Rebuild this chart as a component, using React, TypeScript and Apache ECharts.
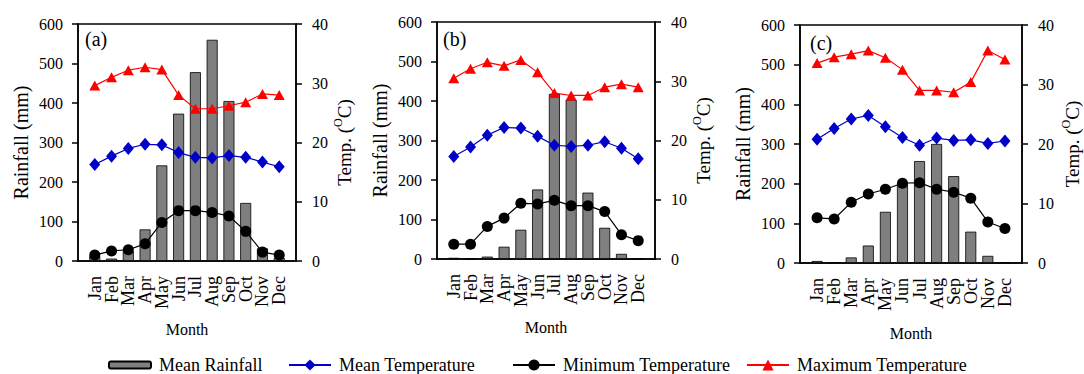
import React, { useEffect, useRef } from "react";
import * as echarts from "echarts";

const months = ["Jan", "Feb", "Mar", "Apr", "May", "Jun", "Jul", "Aug", "Sep", "Oct", "Nov", "Dec"];
const panelLabels = ["(a)", "(b)", "(c)"];

const rainA = [12, 6, 25, 80, 242, 373, 478, 560, 405, 147, 32, 8];
const meanA = [16.3, 17.7, 19.0, 19.7, 19.6, 18.3, 17.5, 17.4, 17.8, 17.5, 16.7, 15.9];
const minA = [1.0, 1.7, 1.9, 2.9, 6.5, 8.5, 8.5, 8.2, 7.6, 5.0, 1.5, 1.0];
const maxA = [29.6, 31.0, 32.2, 32.7, 32.3, 28.0, 25.7, 25.7, 26.2, 26.8, 28.2, 28.0];

const rainB = [3, 1, 6, 31, 74, 176, 418, 403, 168, 79, 13, 1];
const meanB = [17.3, 18.9, 20.9, 22.2, 22.1, 20.7, 19.2, 19.0, 19.2, 19.8, 18.7, 16.9];
const minB = [2.5, 2.5, 5.5, 6.9, 9.4, 9.3, 9.9, 9.0, 9.0, 8.0, 4.1, 3.1];
const maxB = [30.5, 32.1, 33.2, 32.6, 33.6, 31.5, 28.0, 27.6, 27.6, 29.0, 29.5, 29.0];

const rainC = [5, 2, 14, 44, 129, 200, 257, 300, 219, 79, 18, 2];
const meanC = [20.8, 22.6, 24.2, 24.8, 22.9, 21.1, 19.8, 21.0, 20.6, 20.7, 20.1, 20.5];
const minC = [7.6, 7.4, 10.2, 11.6, 12.4, 13.4, 13.5, 12.4, 11.9, 10.9, 6.9, 5.8];
const maxC = [33.6, 34.6, 35.1, 35.7, 34.5, 32.5, 29.0, 29.0, 28.7, 30.4, 35.7, 34.2];

const FONT = "Liberation Serif";

const panels = [
  { rain: rainA, mean: meanA, min: minA, max: maxA, grid: { left: 78, top: 24, width: 218, height: 237 }, rGap: 30, lbl: { x: 85, y: 39 }, mGap: 60 },
  { rain: rainB, mean: meanB, min: minB, max: maxB, grid: { left: 437, top: 22, width: 218, height: 237 }, rGap: 28, lbl: { x: 443, y: 39 }, mGap: 60 },
  { rain: rainC, mean: meanC, min: minC, max: maxC, grid: { left: 800, top: 25, width: 222, height: 238 }, rGap: 38, lbl: { x: 810, y: 43 }, mGap: 62 },
];

const pad = (arr: number[]) => [null, ...arr, null];

function buildOption() {
  const grid: any[] = [];
  const xAxis: any[] = [];
  const yAxis: any[] = [];
  const series: any[] = [];
  const graphic: any[] = [];
  panels.forEach((p, i) => {
    grid.push({ ...p.grid, show: true, borderColor: "#000", borderWidth: 1.5, backgroundColor: "transparent" });
    xAxis.push({
      type: "category",
      gridIndex: i,
      data: ["", ...months, ""],
      boundaryGap: false,
      axisTick: { show: false },
      axisLine: { lineStyle: { color: "#000", width: 1.5 } },
      axisLabel: { rotate: 90, interval: 0, fontSize: 18, fontFamily: FONT, color: "#000", margin: 15 },
      name: "Month",
      nameLocation: "middle",
      nameGap: p.mGap,
      nameTextStyle: { fontSize: 16, fontFamily: FONT, color: "#000" },
      splitLine: { show: false },
    });
    yAxis.push({
      type: "value",
      gridIndex: i,
      position: "left",
      min: 0,
      max: 600,
      interval: 100,
      splitLine: { show: false },
      axisLine: { show: true, lineStyle: { color: "#000", width: 1.5 } },
      axisTick: { show: true, length: 6, lineStyle: { color: "#000", width: 1.5 } },
      axisLabel: { fontSize: 16, fontFamily: FONT, color: "#000", margin: 15 },
      name: "Rainfall (mm)",
      nameLocation: "middle",
      nameRotate: 90,
      nameGap: 47,
      nameTextStyle: { fontSize: 20, fontFamily: FONT, color: "#000" },
    });
    yAxis.push({
      type: "value",
      gridIndex: i,
      position: "right",
      min: 0,
      max: 40,
      interval: 10,
      splitLine: { show: false },
      axisLine: { show: true, lineStyle: { color: "#000", width: 1.5 } },
      axisTick: { show: true, length: 6, lineStyle: { color: "#000", width: 1.5 } },
      axisLabel: { fontSize: 16, fontFamily: FONT, color: "#000", margin: 16 },
      name: "{n|Temp. (}{s|O}{n|C)}",
      nameLocation: "middle",
      nameRotate: 90,
      nameGap: p.rGap,
      nameTextStyle: {
        fontFamily: FONT,
        color: "#000",
        rich: {
          n: { fontSize: 19, fontFamily: FONT, color: "#000", lineHeight: 22, verticalAlign: "bottom" },
          s: { fontSize: 12, fontFamily: FONT, color: "#000", lineHeight: 22, verticalAlign: "top", padding: [0, 0, 8, 0] },
        },
      },
    });
    series.push({
      name: "Mean Rainfall",
      type: "bar",
      xAxisIndex: i,
      yAxisIndex: i * 2,
      data: pad(p.rain),
      barWidth: 11,
      itemStyle: { color: "#7f7f7f", borderColor: "#000", borderWidth: 0.8 },
      z: 1,
    });
    series.push({
      name: "Mean Temperature",
      type: "line",
      xAxisIndex: i,
      yAxisIndex: i * 2 + 1,
      data: pad(p.mean),
      symbol: "diamond",
      symbolSize: [11, 13],
      lineStyle: { color: "#0000c8", width: 1.2 },
      itemStyle: { color: "#0000c8" },
      z: 3,
    });
    series.push({
      name: "Minimum Temperature",
      type: "line",
      xAxisIndex: i,
      yAxisIndex: i * 2 + 1,
      data: pad(p.min),
      symbol: "circle",
      symbolSize: 11,
      lineStyle: { color: "#000", width: 1.2 },
      itemStyle: { color: "#000" },
      z: 3,
    });
    series.push({
      name: "Maximum Temperature",
      type: "line",
      xAxisIndex: i,
      yAxisIndex: i * 2 + 1,
      data: pad(p.max),
      symbol: "triangle",
      symbolSize: [11, 10],
      lineStyle: { color: "#ff0000", width: 1.2 },
      itemStyle: { color: "#ff0000" },
      z: 3,
    });
    graphic.push({
      type: "text",
      x: p.lbl.x,
      y: p.lbl.y,
      style: { text: panelLabels[i], font: `20px ${FONT}`, fill: "#000", verticalAlign: "middle" },
      z: 10,
    });
  });

  const legTxt = { fontSize: 18, fontFamily: FONT, color: "#000", padding: [0, 0, 0, 3] };
  const legend = [
    { data: ["Mean Rainfall"], left: 108, top: 356, itemWidth: 42, itemHeight: 7, padding: 0, textStyle: legTxt },
    { data: ["Mean Temperature"], left: 288, top: 356, itemWidth: 42, itemHeight: 14, padding: 0, textStyle: legTxt },
    { data: ["Minimum Temperature"], left: 512, top: 356, itemWidth: 42, itemHeight: 14, padding: 0, textStyle: legTxt },
    { data: ["Maximum Temperature"], left: 746, top: 356, itemWidth: 42, itemHeight: 14, padding: 0, textStyle: legTxt },
  ];

  return {
    animation: false,
    backgroundColor: "#fff",
    textStyle: { fontFamily: FONT },
    grid,
    xAxis,
    yAxis,
    series,
    legend,
    graphic,
  };
}

export default function App() {
  const ref = useRef<HTMLDivElement>(null);
  useEffect(() => {
    if (!ref.current) return;
    const chart = echarts.init(ref.current, null, { renderer: "svg" });
    chart.setOption(buildOption() as any);
    return () => chart.dispose();
  }, []);
  return (
    <div
      ref={ref}
      style={{ position: "fixed", left: 0, top: 0, width: 1084, height: 374, background: "#fff" }}
    />
  );
}
